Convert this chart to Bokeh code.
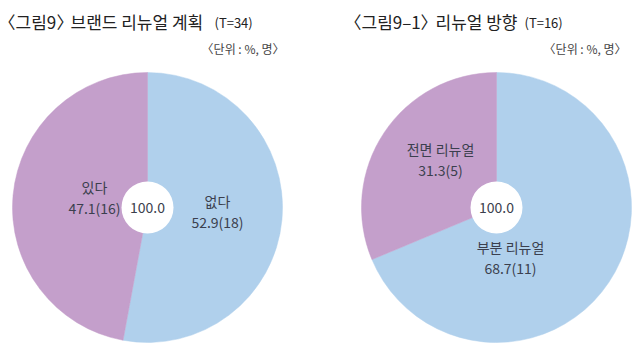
import numpy as np
from bokeh.plotting import figure
from bokeh.models import Range1d, ColumnDataSource
from bokeh.core.properties import value
from bokeh.embed import file_html
from bokeh.resources import INLINE

# Data
plan_labels = ["없다", "있다"]
plan_pct = [52.9, 47.1]
plan_n = [18, 16]
dir_labels = ["부분 리뉴얼", "전면 리뉴얼"]
dir_pct = [68.7, 31.3]
dir_n = [11, 5]
colors = ["#b0d0ec", "#c49fcb"]

W, H = 640, 353
FONT = "Noto Sans CJK KR"
TXT = "#3b3f4e"

p = figure(width=W, height=H, x_range=Range1d(0, W), y_range=Range1d(0, H),
           output_backend="svg", toolbar_location=None, min_border=0)
p.axis.visible = False
p.grid.visible = False
p.outline_line_color = None
p.background_fill_color = "white"

def Y(py):
    return H - py

def txt(x, py, s, size, color=TXT, align="center"):
    p.text(x=[x], y=[Y(py)], text=[s], text_font=value(FONT), text_font_size=size,
           text_color=color, text_align=align, text_baseline="middle")

def pie(cx, cy, r, pcts):
    vals = np.array(pcts, dtype=float)
    frac = vals / vals.sum()
    cum = np.concatenate([[0], np.cumsum(frac)])
    start = np.pi / 2 - 2 * np.pi * cum[:-1]
    end = np.pi / 2 - 2 * np.pi * cum[1:]
    src = ColumnDataSource(dict(x=[cx] * len(vals), y=[Y(cy)] * len(vals),
                                s=list(start), e=list(end), c=colors[:len(vals)]))
    p.wedge(x="x", y="y", radius=r, start_angle="s", end_angle="e",
            direction="clock", fill_color="c", line_color="c", line_width=0.5, source=src)
    p.circle(x=[cx], y=[Y(cy)], radius=26, fill_color="white", line_color=None)
    txt(cx, cy, f"{vals.sum():.1f}", "14px")

def label(x, py, lines):
    for i, t in enumerate(lines):
        txt(x, py + i * 21, t, "14px")

pie(147, 207, 135, plan_pct)
pie(496, 207, 135, dir_pct)

label(94, 186, [plan_labels[1], f"{plan_pct[1]}({plan_n[1]})"])
label(217, 200, [plan_labels[0], f"{plan_pct[0]}({plan_n[0]})"])
label(440, 148, [dir_labels[1], f"{dir_pct[1]}({dir_n[1]})"])
label(510, 246, [dir_labels[0], f"{dir_pct[0]}({dir_n[0]})"])

TC = "#222222"
TY = 21
# left title
txt(15, TY, "〈", "17px", TC, "right")
txt(15, TY, "그림9", "17px", TC, "left")
txt(56, TY, "〉", "17px", TC, "left")
txt(70, TY, "브랜드 리뉴얼 계획", "17px", TC, "left")
txt(214, TY + 1, "(T=34)", "13px", TC, "left")
# right title
txt(361, TY, "〈", "17px", TC, "right")
txt(361, TY, "그림9–1", "17px", TC, "left")
txt(420, TY, "〉", "17px", TC, "left")
txt(435, TY, "리뉴얼 방향", "17px", TC, "left")
txt(524, TY + 1, "(T=16)", "13px", TC, "left")

for xr in (284, 626):
    txt(xr, 48, "〈단위 : %, 명〉", "12px", "#444444", "right")

open("out.html", "w").write(file_html(p, INLINE))
